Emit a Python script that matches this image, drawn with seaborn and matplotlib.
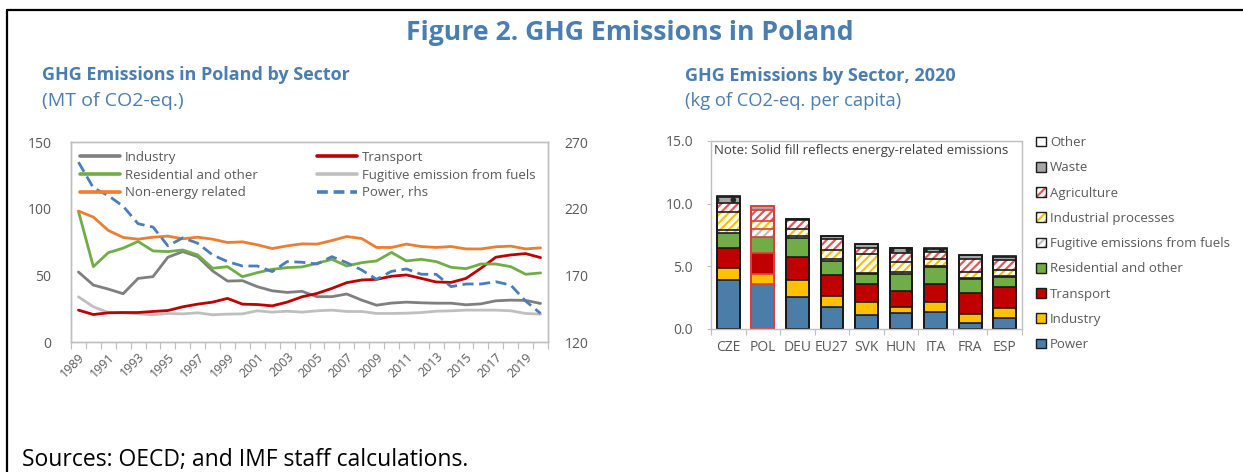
import numpy as np
import pandas as pd
import matplotlib
matplotlib.use("Agg")
import matplotlib.pyplot as plt
import seaborn as sns
from matplotlib.patches import Patch
from matplotlib.lines import Line2D
from matplotlib.legend_handler import HandlerTuple
from matplotlib.ticker import FixedLocator, FormatStrFormatter

# ---------------- data: left chart (MT of CO2-eq.) ----------------
years = list(range(1989, 2021))
industry = [52.5, 42.7, 39.7, 36.2, 47.7, 49.0, 63.6, 67.8, 64.0, 53.3, 45.7, 46.0,
            41.5, 38.4, 37.2, 38.0, 34.0, 34.0, 36.0, 31.4, 27.6, 29.2, 29.9, 29.4,
            29.1, 29.1, 27.9, 28.6, 30.9, 31.4, 31.2, 28.9]
residential = [98.0, 56.5, 67.0, 70.4, 75.4, 68.3, 67.8, 69.0, 65.3, 55.3, 56.5, 49.0,
               52.0, 54.5, 55.8, 56.3, 59.0, 62.0, 57.0, 59.5, 60.8, 67.2, 60.8, 62.0,
               60.3, 56.0, 55.0, 58.5, 58.5, 56.5, 50.8, 51.8]
non_energy = [98.2, 93.7, 83.7, 78.4, 77.1, 78.6, 79.4, 77.4, 78.6, 77.1, 74.6, 75.1,
              72.9, 70.1, 72.1, 73.6, 73.4, 76.1, 79.1, 77.6, 70.9, 70.9, 73.4, 71.6,
              70.9, 71.6, 69.8, 69.8, 71.4, 71.9, 69.8, 70.6]
transport = [23.9, 20.6, 21.9, 22.1, 22.1, 22.9, 23.6, 26.4, 28.4, 29.9, 32.7, 28.4,
             28.1, 27.1, 29.9, 33.9, 36.4, 40.2, 44.5, 46.5, 47.0, 49.3, 50.3, 47.7,
             45.0, 44.7, 47.7, 55.3, 63.6, 65.3, 66.3, 63.3]
fugitive = [33.9, 26.4, 22.1, 21.9, 21.1, 20.4, 21.4, 21.1, 21.9, 20.4, 20.9, 21.1,
            23.4, 22.4, 23.1, 22.4, 23.4, 23.9, 22.9, 22.9, 21.4, 21.4, 21.6, 22.1,
            23.1, 23.4, 23.9, 23.9, 23.9, 23.4, 21.4, 20.9]
power_rhs = [254.9, 235.6, 229.8, 221.8, 208.7, 206.2, 192.1, 198.1, 194.1, 185.3, 180.3, 177.0,
             177.0, 172.8, 180.3, 179.8, 178.5, 184.0, 179.5, 174.0, 167.0, 173.0, 174.8, 170.8,
             170.8, 161.5, 163.5, 163.5, 165.2, 162.7, 150.7, 141.4]
year_tick_labels = [str(y) for y in range(1989, 2020, 2)]

# ---------------- data: right chart (kg of CO2-eq. per capita) ----------------
countries = ["CZE", "POL", "DEU", "EU27", "SVK", "HUN", "ITA", "FRA", "ESP"]
pc_power       = [3.88, 3.61, 2.52, 1.73, 1.12, 1.25, 1.35, 0.50, 0.85]
pc_industry    = [0.95, 0.75, 1.41, 0.90, 1.06, 0.50, 0.77, 0.67, 0.85]
pc_transport   = [1.67, 1.67, 1.81, 1.65, 1.38, 1.31, 1.44, 1.67, 1.62]
pc_residential = [1.18, 1.33, 1.51, 1.11, 0.85, 1.30, 1.38, 1.12, 0.80]
pc_fugitive    = [0.21, 0.61, 0.14, 0.21, 0.08, 0.19, 0.12, 0.08, 0.10]
pc_indproc     = [1.43, 0.66, 0.60, 0.67, 1.49, 0.78, 0.50, 0.53, 0.48]
pc_agriculture = [0.75, 0.85, 0.72, 0.88, 0.45, 0.77, 0.55, 1.01, 0.80]
pc_waste       = [0.48, 0.32, 0.08, 0.26, 0.34, 0.35, 0.30, 0.32, 0.26]
pc_other       = [0.05, 0.05, 0.02, 0.03, 0.03, 0.05, 0.03, 0.03, 0.03]

# ---------------- style ----------------
sns.set_theme(style="white")
plt.rcParams["font.family"] = ["Open Sans", "DejaVu Sans"]
plt.rcParams["hatch.linewidth"] = 1.6

BLUE_T = "#4A7EB0"
TICK_C = "#595959"
SPINE_C = "#BFBFBF"

W, H = 1243, 472
fig = plt.figure(figsize=(W / 100, H / 100), dpi=100)
fig.patch.set_facecolor("white")


def px_rect(l, t, r, b):
    return [l / W, 1 - b / H, (r - l) / W, (b - t) / H]


def ftext(x, y, s, **kw):
    fig.text(x / W, 1 - y / H, s, va="center", **kw)


# frame lines (left and top)
fig.add_artist(Line2D([7 / W, 7 / W], [0, 1 - 10 / H], color="black", lw=1.6,
                      transform=fig.transFigure))
fig.add_artist(Line2D([7 / W, 1], [1 - 10 / H, 1 - 10 / H], color="black", lw=1.6,
                      transform=fig.transFigure))

# titles
ftext(630, 33, "Figure 2. GHG Emissions in Poland", ha="center", fontsize=19.2,
      fontweight="bold", color=BLUE_T)
ftext(42, 75, "GHG Emissions in Poland by Sector", ha="left", fontsize=13,
      fontweight="bold", color=BLUE_T)
ftext(42, 101, "(MT of CO2-eq.)", ha="left", fontsize=14, color=BLUE_T)
ftext(685, 76, "GHG Emissions by Sector, 2020", ha="left", fontsize=13,
      fontweight="bold", color=BLUE_T)
ftext(685, 101, "(kg of CO2-eq. per capita)", ha="left", fontsize=13.2, color=BLUE_T)
ftext(22, 460, "Sources: OECD; and IMF staff calculations.", ha="left", fontsize=16.5,
      color="black")

# ---------------- left chart ----------------
ax1 = fig.add_axes(px_rect(71, 142, 548, 342))
ax2 = ax1.twinx()

sector_names = ["Industry", "Residential and other", "Non-energy related",
                "Transport", "Fugitive emission from fuels"]
palette = {"Industry": "#7F7F7F", "Residential and other": "#70AD47",
           "Non-energy related": "#ED7D31", "Transport": "#C00000",
           "Fugitive emission from fuels": "#BFBFBF"}
series = [industry, residential, non_energy, transport, fugitive]
df = pd.DataFrame({
    "Year": years * len(series),
    "Value": sum(series, []),
    "Sector": sum([[n] * len(years) for n in sector_names], []),
})
draw_order = ["Fugitive emission from fuels", "Industry", "Transport",
              "Residential and other", "Non-energy related"]
sns.lineplot(data=df, x="Year", y="Value", hue="Sector", hue_order=draw_order,
             palette=palette, linewidth=2.0, ax=ax1, legend=False)
POWER_C = "#4A7EBB"
sns.lineplot(x=years, y=power_rhs, ax=ax2, color=POWER_C, linewidth=2.0,
             linestyle=(0, (4, 2)), legend=False)

ax1.set_xlim(1988.5, 2020.5)
ax1.set_ylim(0, 150)
ax2.set_ylim(120, 270)
ax1.set_yticks([0, 50, 100, 150])
ax2.set_yticks([120, 170, 220, 270])
ax1.set_xticks(list(range(1989, 2020, 2)))
ax1.set_xticklabels(year_tick_labels, rotation=45, ha="right", rotation_mode="anchor")
ax1.xaxis.set_minor_locator(FixedLocator([y + 0.5 for y in range(1988, 2021)]))
ax1.tick_params(axis="x", which="major", length=0, labelsize=9, colors=TICK_C, pad=6)
ax1.tick_params(axis="x", which="minor", length=5, width=0.8, color=SPINE_C,
                direction="out", bottom=True)
ax1.tick_params(axis="y", length=0, labelsize=10, colors=TICK_C, pad=14)
ax2.tick_params(axis="y", length=0, labelsize=10, colors=TICK_C, pad=12)
ax1.set_xlabel("")
ax1.set_ylabel("")
ax2.set_ylabel("")
for a in (ax1, ax2):
    for sp in a.spines.values():
        sp.set_color(SPINE_C)
        sp.set_linewidth(1.0)

leg_handles = [Line2D([], [], color=palette[n], lw=2.6) for n in
               ["Industry", "Residential and other", "Non-energy related",
                "Transport", "Fugitive emission from fuels"]]
leg_handles.append(Line2D([], [], color=POWER_C, lw=2.6, linestyle=(0, (3, 1.6))))
leg_labels = ["Industry", "Residential and other", "Non-energy related",
              "Transport", "Fugitive emission from fuels", "Power, rhs"]
leg1 = ax2.legend(leg_handles, leg_labels, ncol=2, frameon=False, fontsize=9.5,
                  loc="upper left", bbox_to_anchor=(80 / W, 1 - 151 / H),
                  bbox_transform=fig.transFigure, handlelength=3.0,
                  handletextpad=0.4, labelspacing=0.36, columnspacing=4.5,
                  borderaxespad=0, borderpad=0)
for t in leg1.get_texts():
    t.set_color(TICK_C)

# ---------------- right chart ----------------
ax3 = fig.add_axes(px_rect(711, 141, 1022, 329))

segments = [
    # label, values, face, hatch, hatch colour
    ("Power", pc_power, "#4A7EA8", None, "#4A7EA8"),
    ("Industry", pc_industry, "#FFC000", None, "#FFC000"),
    ("Transport", pc_transport, "#C00000", None, "#C00000"),
    ("Residential and other", pc_residential, "#70AD47", None, "#70AD47"),
    ("Fugitive emissions from fuels", pc_fugitive, "white", "////", "#BFBFBF"),
    ("Industrial processes", pc_indproc, "white", "////", "#FFC000"),
    ("Agriculture", pc_agriculture, "white", "////", "#E0585B"),
    ("Waste", pc_waste, "#A6A6A6", ".", "#262626"),
    ("Other", pc_other, "white", None, "white"),
]
cum = np.cumsum(np.array([s[1] for s in segments]), axis=0)
BAR_W = 0.66

for k in reversed(range(len(segments))):
    lab, vals, fc, hatch, hc = segments[k]
    sns.barplot(x=countries, y=cum[k], order=countries, color=fc, saturation=1,
                hatch=hatch, edgecolor=hc, linewidth=0, width=BAR_W,
                errorbar=None, ax=ax3)
for k in reversed(range(len(segments))):
    sns.barplot(x=countries, y=cum[k], order=countries, color="#1A1A1A", fill=False,
                linewidth=1.2, width=BAR_W, errorbar=None, ax=ax3)
    cont = ax3.containers[-1]
    cont.patches[1].set_edgecolor("#E03C3C")

ax3.set_ylim(0, 15)
ax3.set_xlim(-0.5, len(countries) - 0.5)
ax3.set_yticks([0, 5, 10, 15])
ax3.yaxis.set_major_formatter(FormatStrFormatter("%.1f"))
ax3.xaxis.set_minor_locator(FixedLocator([i + 0.5 for i in range(-1, len(countries))]))
ax3.tick_params(axis="x", which="major", length=0, labelsize=10, colors=TICK_C, pad=8)
ax3.tick_params(axis="x", which="minor", length=4, width=0.8, color=SPINE_C,
                direction="out", bottom=True)
ax3.tick_params(axis="y", length=3, width=0.8, color=SPINE_C, direction="out",
                left=True, labelsize=10, colors=TICK_C, pad=10)
ax3.set_xlabel("")
ax3.set_ylabel("")
for sp in ax3.spines.values():
    sp.set_color(SPINE_C)
    sp.set_linewidth(1.0)

ax3.text(0.01, 0.95, "Note: Solid fill reflects energy-related emissions",
         transform=ax3.transAxes, ha="left", va="center", fontsize=9.5, color="#404040")

bar_handles = []
bar_labels = []
for lab, vals, fc, hatch, hc in reversed(segments):
    h_fill = Patch(facecolor=fc, hatch=hatch, edgecolor=hc, linewidth=0)
    h_edge = Patch(fill=False, edgecolor="#1A1A1A", linewidth=1.0)
    bar_handles.append((h_fill, h_edge))
    bar_labels.append(lab)
leg2 = fig.legend(bar_handles, bar_labels, loc="upper left",
                  bbox_to_anchor=(1036 / W, 1 - 136 / H), frameon=False,
                  fontsize=9.5, handlelength=0.75, handleheight=0.75,
                  handletextpad=0.3, labelspacing=0.93, borderpad=0,
                  borderaxespad=0,
                  handler_map={tuple: HandlerTuple(ndivide=1, pad=0)})
for t in leg2.get_texts():
    t.set_color(TICK_C)

fig.savefig("out.png", dpi=100, facecolor="white")
